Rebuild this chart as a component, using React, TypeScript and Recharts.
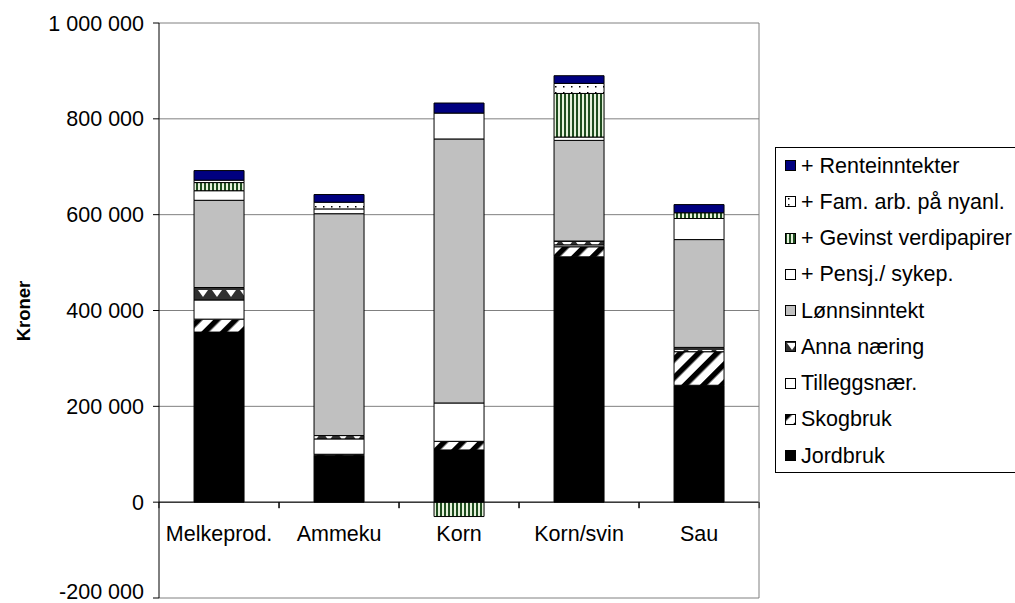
import React from "react";
import {
  Bar,
  BarChart,
  CartesianGrid,
  LabelList,
  ReferenceLine,
  XAxis,
  YAxis,
} from "recharts";

// values, kroner per farm
const categories = ["Melkeprod.", "Ammeku", "Korn", "Korn/svin", "Sau"];
const jordbruk = [355000, 98000, 109000, 512000, 244000];
const skogbruk = [27000, 2000, 18000, 21000, 70000];
const tilleggsnaer = [40000, 32000, 80000, 4000, 0];
const annaNaering = [26000, 7000, 0, 8000, 9000];
const lonnsinntekt = [182000, 463000, 551000, 210000, 225000];
const pensjSykep = [20000, 10000, 54000, 7000, 44000];
const gevinstVerdipapirer = [17000, 0, -30000, 91000, 12000];
const famArb = [5000, 14000, 0, 21000, 0];
const renteinntekter = [20000, 16000, 21000, 16000, 17000];
const yTicks = [-200000, 0, 200000, 400000, 600000, 800000, 1000000];

const FONT = "'Liberation Sans', Arial, sans-serif";
const FS = 21.5;
const GAP = 0.292;

// bottom to top
const series = [
  { key: "jordbruk", name: "Jordbruk", values: jordbruk, fill: "#000000" },
  { key: "skogbruk", name: "Skogbruk", values: skogbruk, fill: "url(#pSkog)" },
  { key: "tillegg", name: "Tilleggsnær.", values: tilleggsnaer, fill: "#ffffff" },
  { key: "anna", name: "Anna næring", values: annaNaering, fill: "url(#pAnna)" },
  { key: "lonn", name: "Lønnsinntekt", values: lonnsinntekt, fill: "#c0c0c0" },
  { key: "pensj", name: "+ Pensj./ sykep.", values: pensjSykep, fill: "#ffffff" },
  { key: "gevinst", name: "+ Gevinst verdipapirer", values: gevinstVerdipapirer, fill: "url(#pGevinst)" },
  { key: "fam", name: "+ Fam. arb. på nyanl.", values: famArb, fill: "url(#pFam)" },
  { key: "rente", name: "+ Renteinntekter", values: renteinntekter, fill: "#000080" },
];

const data = categories.map((name, i) => {
  const row: Record<string, string | number> = { name };
  series.forEach((s) => {
    row[s.key] = s.values[i];
  });
  return row;
});

const fmt = (v: number) => String(v).replace(/\B(?=(\d{3})+(?!\d))/g, " ");

function YTick(props: any) {
  const { x, y, payload } = props;
  // lowest label is lifted a little so it is not cut by the page edge
  const lift = payload.value === yTicks[0] ? -7 : 0;
  return (
    <text
      x={x}
      y={y + lift}
      dy="0.355em"
      textAnchor="end"
      fontSize={FS}
      fontFamily={FONT}
      fill="#000"
    >
      {fmt(payload.value)}
    </text>
  );
}

function CategoryLabel(props: any) {
  const { x, y, width, height, value } = props;
  const cx = x + width / 2;
  const base = y + height;
  const half = width / (1 - 2 * GAP) / 2;
  return (
    <g>
      <line x1={cx - half} x2={cx - half} y1={base} y2={base + 6} stroke="#000" />
      <line x1={cx + half} x2={cx + half} y1={base} y2={base + 6} stroke="#000" />
      <text x={cx} y={base + 39} textAnchor="middle" fontSize={FS} fontFamily={FONT} fill="#000">
        {value}
      </text>
    </g>
  );
}

function Patterns() {
  return (
    <svg width={0} height={0} style={{ position: "absolute" }}>
      <defs>
        <pattern id="pSkog" width="13" height="13" patternUnits="userSpaceOnUse" patternTransform="rotate(45)">
          <rect width="13" height="13" fill="#ffffff" />
          <rect width="5.5" height="13" fill="#000000" />
        </pattern>
        <pattern id="pAnna" width="14" height="12" patternUnits="userSpaceOnUse">
          <rect width="14" height="12" fill="#303030" />
          <polygon points="2,2 12,2 7,9" fill="#ffffff" />
        </pattern>
        <pattern id="pGevinst" width="4" height="4" patternUnits="userSpaceOnUse">
          <rect width="4" height="4" fill="#e6f2dc" />
          <rect width="2" height="4" fill="#1f4d1f" />
        </pattern>
        <pattern id="pFam" width="8" height="6" patternUnits="userSpaceOnUse">
          <rect width="8" height="6" fill="#ffffff" />
          <rect x="3" y="2" width="1.5" height="1.5" fill="#000000" />
        </pattern>
      </defs>
    </svg>
  );
}

export default function App() {
  const legendItems = [...series].reverse();
  return (
    <div
      style={{
        position: "absolute",
        left: 0,
        top: 0,
        width: 1015,
        height: 603,
        overflow: "hidden",
        background: "#fff",
        fontFamily: FONT,
      }}
    >
      <Patterns />
      <BarChart
        width={1015}
        height={603}
        data={data}
        stackOffset="sign"
        barCategoryGap={`${GAP * 100}%`}
        margin={{ top: 23, right: 255, bottom: 5, left: 0 }}
      >
        <CartesianGrid vertical={false} stroke="#808080" />
        <XAxis dataKey="name" hide />
        <YAxis
          width={159}
          domain={[-200000, 1000000]}
          ticks={yTicks}
          interval={0}
          tick={<YTick />}
          tickSize={6}
          tickMargin={9}
          axisLine={{ stroke: "#000" }}
          tickLine={{ stroke: "#000" }}
          label={{
            content: () => (
              <text
                x={23}
                y={311}
                transform="rotate(-90 23 311)"
                textAnchor="middle"
                dominantBaseline="central"
                fontSize={18.5}
                fontWeight="bold"
                fontFamily={FONT}
                fill="#000"
              >
                Kroner
              </text>
            ),
          }}
        />
        <YAxis
          yAxisId="r"
          orientation="right"
          width={1}
          domain={[-200000, 1000000]}
          tick={false}
          tickLine={false}
          axisLine={{ stroke: "#808080" }}
        />
        {series.map((s) => (
          <Bar
            key={s.key}
            dataKey={s.key}
            name={s.name}
            stackId="a"
            fill={s.fill}
            stroke="#000"
            strokeWidth={1}
            isAnimationActive={false}
          >
            {s.key === "jordbruk" ? (
              <LabelList dataKey="name" content={CategoryLabel} />
            ) : null}
          </Bar>
        ))}
        <ReferenceLine y={0} stroke="#000" />
      </BarChart>
      <div
        style={{
          position: "absolute",
          left: 775,
          top: 147,
          width: 300,
          height: 326,
          border: "1px solid #000",
          boxSizing: "border-box",
        }}
      >
        {legendItems.map((s, i) => (
          <div
            key={s.key}
            style={{
              position: "absolute",
              left: 9,
              top: 18 + i * 36.25 - 14,
              height: 28,
              display: "flex",
              alignItems: "center",
              whiteSpace: "nowrap",
              fontSize: FS,
              color: "#000",
            }}
          >
            <svg width={12} height={12} style={{ marginRight: 4 }}>
              <rect x={0.5} y={0.5} width={10} height={10} fill={s.fill} stroke="#000" />
            </svg>
            {s.name}
          </div>
        ))}
      </div>
    </div>
  );
}
